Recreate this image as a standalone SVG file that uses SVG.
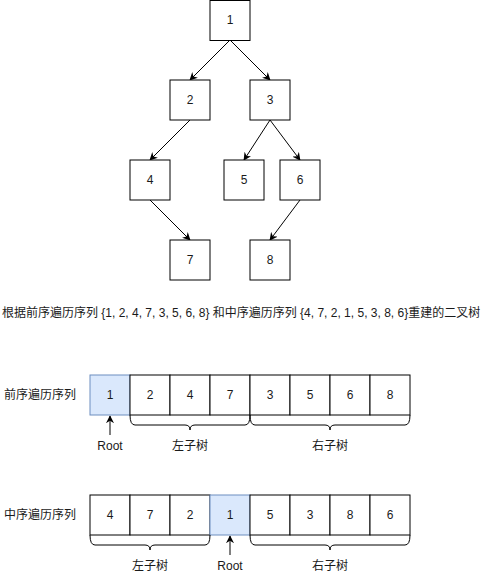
<svg xmlns="http://www.w3.org/2000/svg" width="492" height="576" viewBox="0 0 492 576">
<defs>
<marker id="arr" viewBox="0 0 10 10" refX="9" refY="5" markerWidth="8" markerHeight="8" markerUnits="userSpaceOnUse" orient="auto">
<path d="M0,0 L10,5 L0,10 L3,5 Z" fill="#000"/>
</marker>
<style>
.n rect{fill:#fff;stroke:#000;stroke-width:1}
.n rect.root{fill:#dae8fc;stroke:#6c8ebf}
text{font-family:"Liberation Sans","Noto Sans CJK SC",sans-serif;font-size:12px;fill:#1a1a1a}
.c{text-anchor:middle;dominant-baseline:central}
.e line{stroke:#000;stroke-width:1;marker-end:url(#arr)}
.b{fill:none;stroke:#000;stroke-width:1}
</style>
</defs>
<rect width="492" height="576" fill="#fff"/>
<g class="e" id="connectors">
<line x1="230" y1="40" x2="190" y2="80"/>
<line x1="230" y1="40" x2="270" y2="80"/>
<line x1="190" y1="120" x2="150" y2="160"/>
<line x1="270" y1="120" x2="244" y2="160"/>
<line x1="270" y1="120" x2="300" y2="160"/>
<line x1="150" y1="200" x2="190" y2="240"/>
<line x1="300" y1="200" x2="270" y2="240"/>
<line x1="110" y1="435" x2="110" y2="416"/>
<line x1="230" y1="555" x2="230" y2="536"/>
</g>
<g class="n" id="t1"><rect x="210" y="0.5" width="40" height="40"/><text class="c" x="230" y="20">1</text></g>
<g class="n" id="t2"><rect x="170" y="80" width="40" height="40"/><text class="c" x="190" y="100">2</text></g>
<g class="n" id="t3"><rect x="250" y="80" width="40" height="40"/><text class="c" x="270" y="100">3</text></g>
<g class="n" id="t4"><rect x="130" y="160" width="40" height="40"/><text class="c" x="150" y="180">4</text></g>
<g class="n" id="t5"><rect x="224" y="160" width="40" height="40"/><text class="c" x="244" y="180">5</text></g>
<g class="n" id="t6"><rect x="280" y="160" width="40" height="40"/><text class="c" x="300" y="180">6</text></g>
<g class="n" id="t7"><rect x="170" y="240" width="40" height="40"/><text class="c" x="190" y="260">7</text></g>
<g class="n" id="t8"><rect x="250" y="240" width="40" height="40"/><text class="c" x="270" y="260">8</text></g>
<text id="title" x="2" y="317">根据前序遍历序列 {1, 2, 4, 7, 3, 5, 6, 8} 和中序遍历序列 {4, 7, 2, 1, 5, 3, 8, 6}重建的二叉树</text>
<g id="pre">
<text class="c" x="40" y="395">前序遍历序列</text>
<g class="n" id="p1"><rect class="root" x="90" y="375" width="40" height="40"/><text class="c" x="110" y="395">1</text></g>
<g class="n" id="p2"><rect x="130" y="375" width="40" height="40"/><text class="c" x="150" y="395">2</text></g>
<g class="n" id="p3"><rect x="170" y="375" width="40" height="40"/><text class="c" x="190" y="395">4</text></g>
<g class="n" id="p4"><rect x="210" y="375" width="40" height="40"/><text class="c" x="230" y="395">7</text></g>
<g class="n" id="p5"><rect x="250" y="375" width="40" height="40"/><text class="c" x="270" y="395">3</text></g>
<g class="n" id="p6"><rect x="290" y="375" width="40" height="40"/><text class="c" x="310" y="395">5</text></g>
<g class="n" id="p7"><rect x="330" y="375" width="40" height="40"/><text class="c" x="350" y="395">6</text></g>
<g class="n" id="p8"><rect x="370" y="375" width="40" height="40"/><text class="c" x="390" y="395">8</text></g>
<path class="b" d="M130,415 Q130,425 135,425 H185 Q190,425 190,430 Q190,425 195,425 H245 Q250,425 250,415"/>
<path class="b" d="M250,415 Q250,425 255,425 H325 Q330,425 330,430 Q330,425 335,425 H405 Q410,425 410,415"/>
<text class="c" x="110" y="446">Root</text>
<text class="c" x="190" y="446">左子树</text>
<text class="c" x="330" y="446">右子树</text>
</g>
<g id="in">
<text class="c" x="40" y="515">中序遍历序列</text>
<g class="n" id="i1"><rect x="90" y="495" width="40" height="40"/><text class="c" x="110" y="515">4</text></g>
<g class="n" id="i2"><rect x="130" y="495" width="40" height="40"/><text class="c" x="150" y="515">7</text></g>
<g class="n" id="i3"><rect x="170" y="495" width="40" height="40"/><text class="c" x="190" y="515">2</text></g>
<g class="n" id="i4"><rect class="root" x="210" y="495" width="40" height="40"/><text class="c" x="230" y="515">1</text></g>
<g class="n" id="i5"><rect x="250" y="495" width="40" height="40"/><text class="c" x="270" y="515">5</text></g>
<g class="n" id="i6"><rect x="290" y="495" width="40" height="40"/><text class="c" x="310" y="515">3</text></g>
<g class="n" id="i7"><rect x="330" y="495" width="40" height="40"/><text class="c" x="350" y="515">8</text></g>
<g class="n" id="i8"><rect x="370" y="495" width="40" height="40"/><text class="c" x="390" y="515">6</text></g>
<path class="b" d="M90,535 Q90,545 95,545 H145 Q150,545 150,550 Q150,545 155,545 H205 Q210,545 210,535"/>
<path class="b" d="M250,535 Q250,545 255,545 H325 Q330,545 330,550 Q330,545 335,545 H405 Q410,545 410,535"/>
<text class="c" x="150" y="566">左子树</text>
<text class="c" x="230" y="566">Root</text>
<text class="c" x="330" y="566">右子树</text>
</g>
</svg>
